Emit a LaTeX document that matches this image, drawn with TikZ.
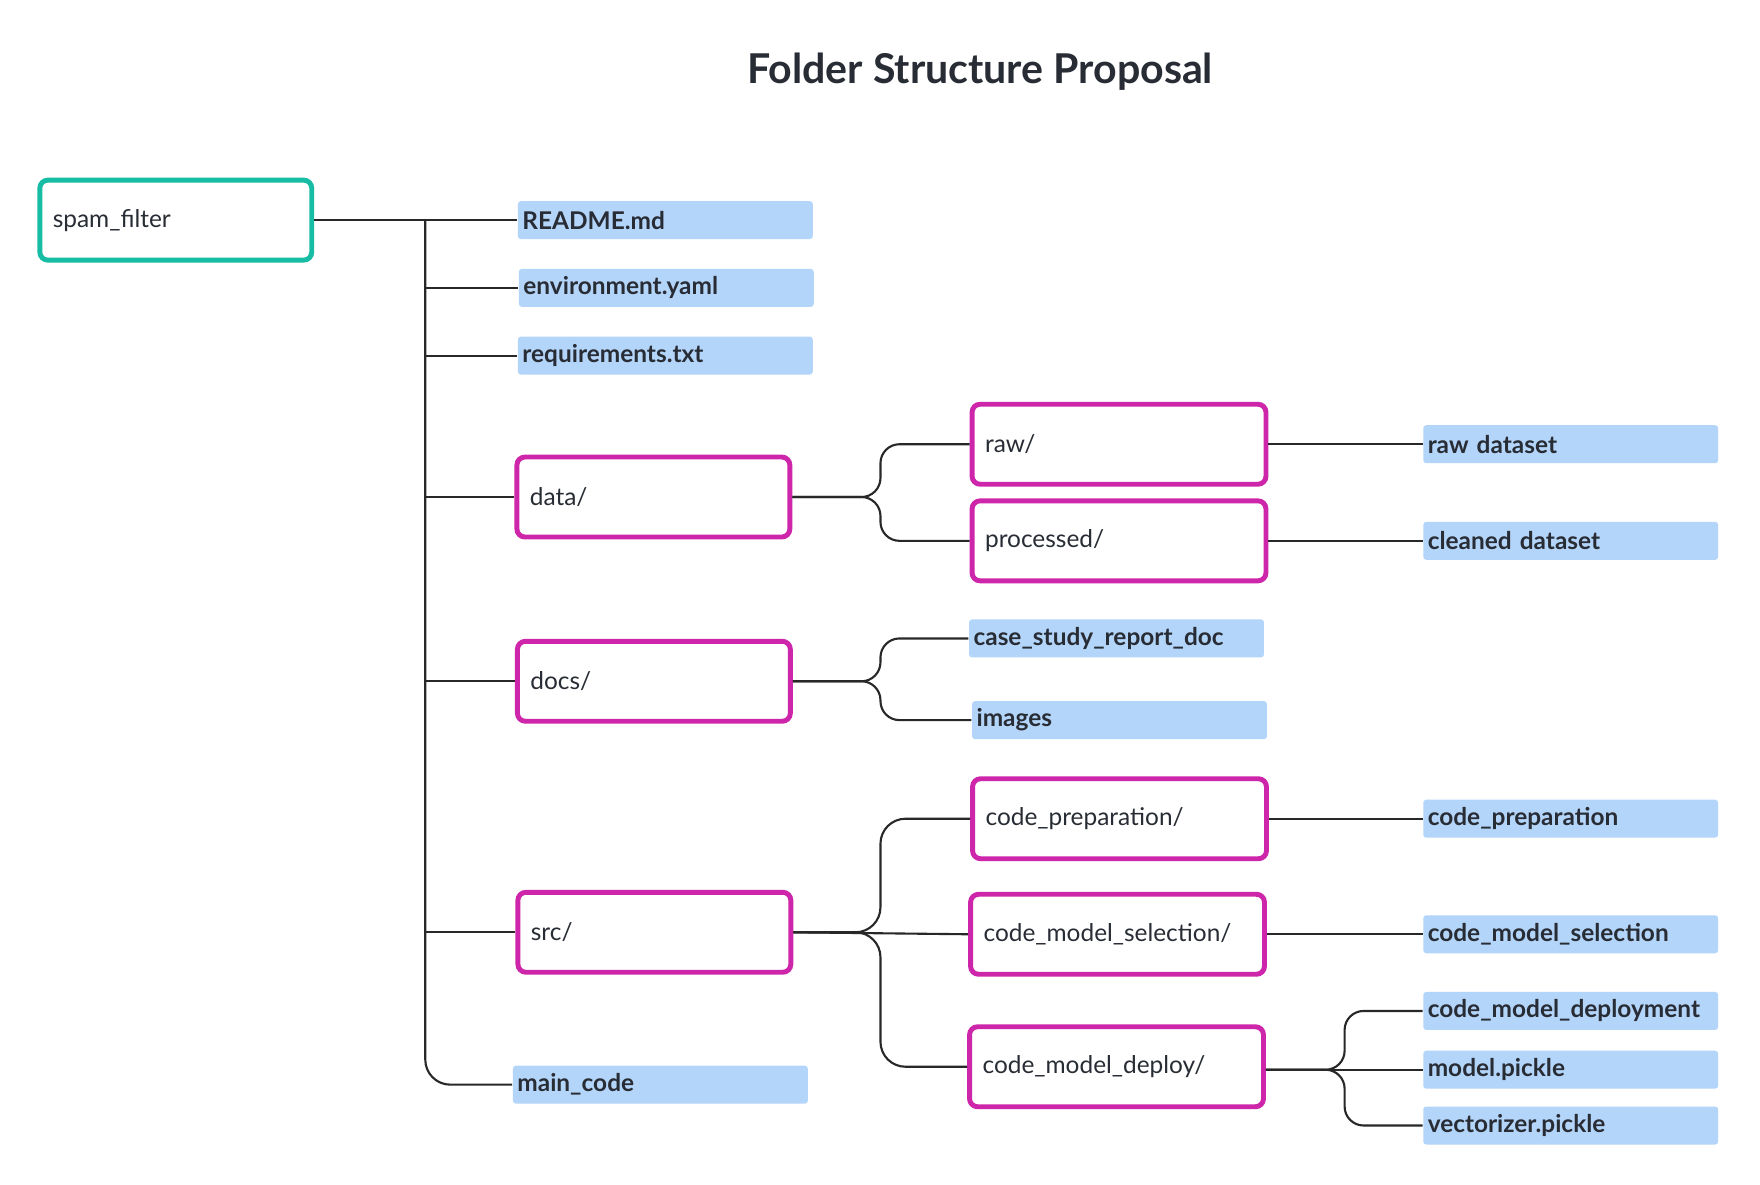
\documentclass[tikz,border=0pt]{standalone}
\usepackage{fontspec}
\setmainfont{Lato}
\definecolor{tealc}{RGB}{22,188,163}
\definecolor{magc}{RGB}{206,38,170}
\definecolor{bluef}{RGB}{180,213,250}
\definecolor{ink}{RGB}{40,44,52}
\definecolor{wire}{RGB}{40,40,40}
\begin{document}
\begin{tikzpicture}[x=0.00996cm,y=-0.00996cm,
  box/.style={rounded corners=0.08cm, line width=1.4pt, fill=white, align=left,
    inner xsep=0.13cm, inner ysep=0pt, minimum height=0.80cm, text=ink,
    font=\fontsize{6.95pt}{8.5pt}\selectfont},
  rootbox/.style={box, draw=tealc, minimum width=2.72cm, text width=2.46cm},
  folder/.style={box, draw=magc, minimum width=2.73cm, text width=2.47cm},
  wfolder/.style={box, draw=magc, minimum width=2.94cm, text width=2.68cm},
  file/.style={fill=bluef, rounded corners=0.03cm, minimum width=2.95cm,
    minimum height=0.38cm, text width=2.86cm, inner xsep=0.045cm, inner ysep=0pt,
    align=left, text=ink, font=\fontsize{6.95pt}{8.5pt}\selectfont\bfseries},
  wire/.style={draw=wire, line width=0.6pt},
  fork/.style={wire, rounded corners=0.19cm}
]
\useasboundingbox (0,0) rectangle (1767.07,1188.76);
\fill[white] (0,0) rectangle (1767.07,1188.76);

\node[text=ink, font=\fontsize{11.7pt}{13pt}\selectfont\bfseries] (title) at (984,72) {Folder Structure Proposal};

\begin{scope}[shift={(0,2)}]
% level 0
\node[rootbox] (spam) at (176.5,219) {spam\_filter};

% level 1
\node[file] (readme) at (668,219) {README.md};
\node[file] (env) at (669,287) {environment.yaml};
\node[file] (req) at (668,355) {requirements.txt};
\node[folder] (data) at (656,497) {data/};
\node[folder] (docs) at (656.5,682) {docs/};
\node[folder] (src) at (657,934) {src/};
\node[file] (main) at (663,1087) {main\_code};

% level 2
\node[wfolder] (raw) at (1123.5,444) {raw/};
\node[wfolder] (proc) at (1123.5,541) {processed/};
\node[file] (case) at (1121,639) {case\_study\_report\_doc};
\node[file] (img) at (1124,721) {images};
\node[wfolder] (cprep) at (1124,820) {code\_preparation/};
\node[wfolder] (csel) at (1122,936) {code\_model\_selection/};
\node[wfolder] (cdep) at (1121,1069) {code\_model\_deploy/};

% level 3
\node[file] (rawds) at (1577,444) {raw dataset};
\node[file] (clds) at (1577,541) {cleaned dataset};
\node[file] (fprep) at (1577,820) {code\_preparation};
\node[file] (fsel) at (1577,936) {code\_model\_selection};
\node[file] (fdep) at (1577,1013) {code\_model\_deployment};
\node[file] (model) at (1577,1072) {model.pickle};
\node[file] (vect) at (1577,1128) {vectorizer.pickle};

% trunk
\coordinate (t0) at (427,219);
\draw[wire] (spam.east) -- (readme.west);
\draw[wire, rounded corners=0.25cm] (t0) -- (t0 |- main.west) -- (main.west);
\draw[wire] (t0 |- env.west) -- (env.west);
\draw[wire] (t0 |- req.west) -- (req.west);
\draw[wire] (t0 |- data.west) -- (data.west);
\draw[wire] (t0 |- docs.west) -- (docs.west);
\draw[wire] (t0 |- src.west) -- (src.west);

% data
\coordinate (fd) at (884,497);
\draw[fork] (data.east) -- (fd) -- (fd |- raw.west) -- (raw.west);
\draw[fork] (data.east) -- (fd) -- (fd |- proc.west) -- (proc.west);
% docs
\coordinate (fo) at (884,682);
\draw[fork] (docs.east) -- (fo) -- (fo |- case.west) -- (case.west);
\draw[fork] (docs.east) -- (fo) -- (fo |- img.west) -- (img.west);
% src
\coordinate (fs) at (884,934);
\draw[fork, rounded corners=0.25cm] (src.east) -- (fs) -- (fs |- cprep.west) -- (cprep.west);
\draw[wire] (src.east) -- (csel.west);
\draw[fork, rounded corners=0.25cm] (src.east) -- (fs) -- (fs |- cdep.west) -- (cdep.west);

% right side
\draw[wire] (raw.east) -- (rawds.west);
\draw[wire] (proc.east) -- (clds.west);
\draw[wire] (cprep.east) -- (fprep.west);
\draw[wire] (csel.east) -- (fsel.west);
\coordinate (fp) at (1350,1072);
\draw[wire] (cdep.east |- model.west) -- (model.west);
\draw[fork] (cdep.east |- model.west) -- (fp) -- (fp |- fdep.west) -- (fdep.west);
\draw[fork] (cdep.east |- model.west) -- (fp) -- (fp |- vect.west) -- (vect.west);
\end{scope}
\end{tikzpicture}
\end{document}
